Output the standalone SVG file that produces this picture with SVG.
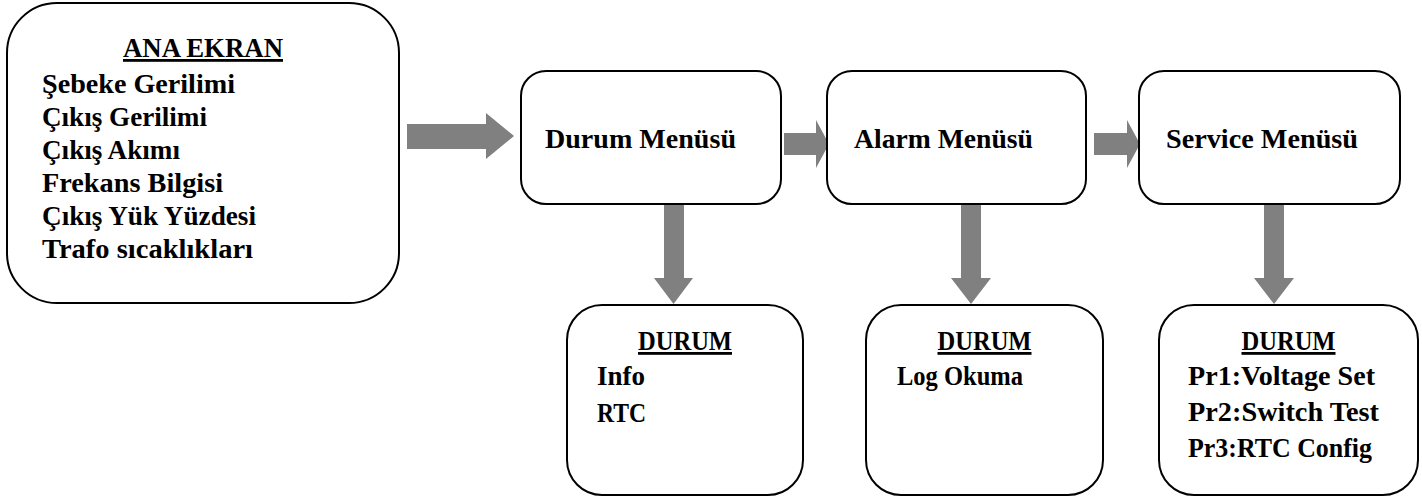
<svg xmlns="http://www.w3.org/2000/svg" width="1422" height="500" viewBox="0 0 1422 500">
<style>
.box{fill:#fff;stroke:#000;stroke-width:2}
.t{font-family:"Liberation Serif","DejaVu Serif",serif;font-weight:bold;font-size:28px;fill:#000}
.h{text-decoration:underline}
.arr{fill:#808080}
</style>
<rect width="1422" height="500" fill="#fff"/>
<g id="connectors">
<polygon class="arr" points="407,124 486,124 486,113 514,136 486,159 486,149 407,149"/>
<polygon class="arr" points="784,133 816,133 816,120 829,144 816,168 816,155 784,155"/>
<polygon class="arr" points="1094,133 1127,133 1127,120 1140,144 1127,168 1127,155 1094,155"/>
<polygon class="arr" points="664,204 684,204 684,278 693,278 673.5,304 654,278 664,278"/>
<polygon class="arr" points="961,204 981,204 981,278 991,278 971,304 951,278 961,278"/>
<polygon class="arr" points="1264,204 1284,204 1284,278 1294,278 1274,304 1254,278 1264,278"/>
</g>
<g id="ana-ekran">
<rect class="box" x="7" y="3" width="392" height="300" rx="50"/>
<text class="t h" x="203" y="57" text-anchor="middle" textLength="160" lengthAdjust="spacingAndGlyphs">ANA EKRAN</text>
<text class="t" x="42" y="93" textLength="193" lengthAdjust="spacingAndGlyphs">Şebeke Gerilimi</text>
<text class="t" x="42" y="126" textLength="165" lengthAdjust="spacingAndGlyphs">Çıkış Gerilimi</text>
<text class="t" x="42" y="159" textLength="138" lengthAdjust="spacingAndGlyphs">Çıkış Akımı</text>
<text class="t" x="42" y="192" textLength="181" lengthAdjust="spacingAndGlyphs">Frekans Bilgisi</text>
<text class="t" x="42" y="225" textLength="214" lengthAdjust="spacingAndGlyphs">Çıkış Yük Yüzdesi</text>
<text class="t" x="42" y="258" textLength="211" lengthAdjust="spacingAndGlyphs">Trafo sıcaklıkları</text>
</g>
<g id="durum-menusu">
<rect class="box" x="521" y="71" width="260" height="133" rx="25"/>
<text class="t" x="545" y="148" textLength="191" lengthAdjust="spacingAndGlyphs">Durum Menüsü</text>
</g>
<g id="alarm-menusu">
<rect class="box" x="827" y="71" width="259" height="133" rx="25"/>
<text class="t" x="854" y="148" textLength="179" lengthAdjust="spacingAndGlyphs">Alarm Menüsü</text>
</g>
<g id="service-menusu">
<rect class="box" x="1139" y="71" width="261" height="133" rx="25"/>
<text class="t" x="1166" y="148" textLength="192" lengthAdjust="spacingAndGlyphs">Service Menüsü</text>
</g>
<g id="durum-1">
<rect class="box" x="567" y="305" width="236" height="190" rx="35"/>
<text class="t h" x="685" y="350" text-anchor="middle" textLength="94" lengthAdjust="spacingAndGlyphs">DURUM</text>
<text class="t" x="597" y="385" textLength="48" lengthAdjust="spacingAndGlyphs">Info</text>
<text class="t" x="597" y="422" textLength="49" lengthAdjust="spacingAndGlyphs">RTC</text>
</g>
<g id="durum-2">
<rect class="box" x="866" y="305" width="237" height="190" rx="35"/>
<text class="t h" x="984.5" y="350" text-anchor="middle" textLength="94" lengthAdjust="spacingAndGlyphs">DURUM</text>
<text class="t" x="897" y="385" textLength="126" lengthAdjust="spacingAndGlyphs">Log Okuma</text>
</g>
<g id="durum-3">
<rect class="box" x="1159" y="305" width="259" height="190" rx="35"/>
<text class="t h" x="1288.5" y="350" text-anchor="middle" textLength="94" lengthAdjust="spacingAndGlyphs">DURUM</text>
<text class="t" x="1188" y="385" textLength="187" lengthAdjust="spacingAndGlyphs">Pr1:Voltage Set</text>
<text class="t" x="1188" y="421" textLength="191" lengthAdjust="spacingAndGlyphs">Pr2:Switch Test</text>
<text class="t" x="1188" y="457" textLength="184" lengthAdjust="spacingAndGlyphs">Pr3:RTC Config</text>
</g>
</svg>
